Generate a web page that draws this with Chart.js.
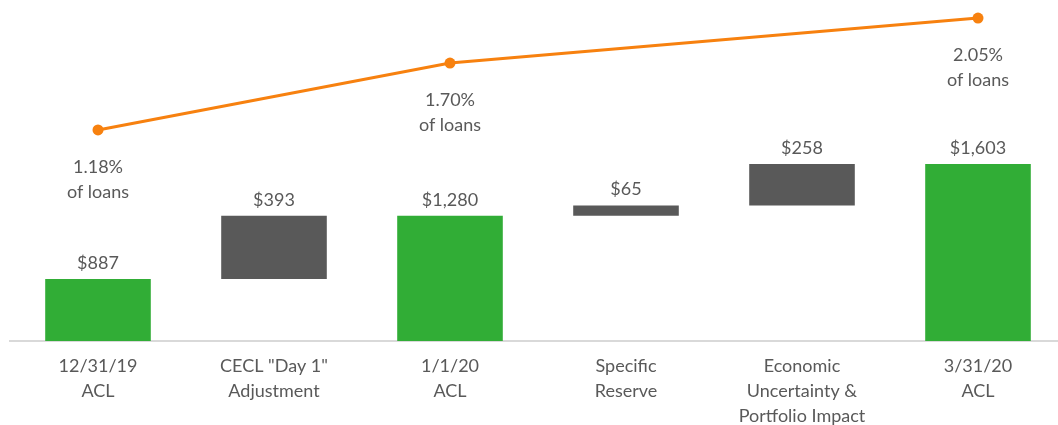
<!DOCTYPE html>
<html>
<head>
<meta charset="utf-8">
<script src="https://cdn.jsdelivr.net/npm/chart.js@4/dist/chart.umd.min.js"></script>
<style>
  html, body { margin: 0; padding: 0; background: #fff; overflow: hidden; }
  #wrap { width: 1066px; height: 425px; }
</style>
</head>
<body>
<div id="wrap"><canvas id="myChart" width="1066" height="425"></canvas></div>
<script>
// categories (multi-line axis labels)
const categories = [
  ['12/31/19', 'ACL'],
  ['CECL "Day 1"', 'Adjustment'],
  ['1/1/20', 'ACL'],
  ['Specific', 'Reserve'],
  ['Economic', 'Uncertainty &', 'Portfolio Impact'],
  ['3/31/20', 'ACL']
];
// ACL totals ($ millions), null where the bar is a change
const aclTotals = [887, null, 1280, null, null, 1603];
// changes between totals
const aclChanges = [null, 393, null, 65, 258, null];
// ACL as % of loans
const pctOfLoans = [1.18, null, 1.70, null, null, 2.05];

const green = '#31AD36';
const grey = '#595959';
const orange = '#F7810F';
const textColor = '#595959';
const fontSize = 18;

// floating ranges for change bars, from the running total
let running = 0;
const changeRanges = [];
categories.forEach((c, i) => {
  if (aclTotals[i] !== null) {
    running = aclTotals[i];
    changeRanges.push(null);
  } else {
    changeRanges.push([running, running + aclChanges[i]]);
    running += aclChanges[i];
  }
});

const fmt = v => '$' + v.toLocaleString('en-US');

const labelPlugin = {
  id: 'valueLabels',
  afterDatasetsDraw(chart) {
    const ctx = chart.ctx;
    ctx.save();
    ctx.fillStyle = textColor;
    ctx.font = fontSize + 'px Lato';
    ctx.textAlign = 'center';
    ctx.textBaseline = 'middle';
    const yScale = chart.scales.y;
    const y2Scale = chart.scales.y2;
    const xScale = chart.scales.x;
    categories.forEach((c, i) => {
      const x = xScale.getPixelForValue(i);
      let top, text;
      if (aclTotals[i] !== null) {
        top = yScale.getPixelForValue(aclTotals[i]);
        text = fmt(aclTotals[i]);
      } else {
        top = yScale.getPixelForValue(Math.max(...changeRanges[i]));
        text = fmt(aclChanges[i]);
      }
      ctx.fillText(text, x, top - 16);
      if (pctOfLoans[i] !== null) {
        const py = y2Scale.getPixelForValue(pctOfLoans[i]);
        ctx.fillText(pctOfLoans[i].toFixed(2) + '%', x, py + 37);
        ctx.fillText('of loans', x, py + 62);
      }
    });
    ctx.restore();
  }
};

const ctx = document.getElementById('myChart');

new Chart(ctx, {
  type: 'bar',
  data: {
    labels: categories,
    datasets: [{
      type: 'line',
      data: pctOfLoans,
      yAxisID: 'y2',
      borderColor: orange,
      backgroundColor: orange,
      borderWidth: 3,
      pointRadius: 5.5,
      pointBackgroundColor: orange,
      pointBorderWidth: 0,
      spanGaps: true,
      clip: false,
      order: 0
    }, {
      data: aclTotals,
      backgroundColor: green,
      yAxisID: 'y',
      grouped: false,
      barPercentage: 0.6,
      categoryPercentage: 1,
      order: 1
    }, {
      data: changeRanges,
      backgroundColor: grey,
      yAxisID: 'y',
      grouped: false,
      barPercentage: 0.6,
      categoryPercentage: 1,
      order: 1
    }]
  },
  options: {
    responsive: false,
    animation: false,
    layout: { autoPadding: false, padding: { left: 10, right: 0, top: 0, bottom: 0 } },
    plugins: {
      legend: { display: false },
      tooltip: { enabled: false }
    },
    scales: {
      x: {
        grid: { display: false, drawTicks: false },
        border: { display: true, color: '#d9d9d9', width: 2 },
        ticks: {
          color: textColor,
          font: { family: 'Lato', size: fontSize, lineHeight: 1.38 },
          padding: 13,
          maxRotation: 0,
          autoSkip: false
        },
        afterFit(scale) { scale.height = 84; }
      },
      y: {
        display: false,
        min: 500,
        max: 2625
      },
      y2: {
        display: false,
        position: 'right',
        min: -0.46,
        max: 2.19
      }
    }
  },
  plugins: [labelPlugin]
});
</script>
</body>
</html>
